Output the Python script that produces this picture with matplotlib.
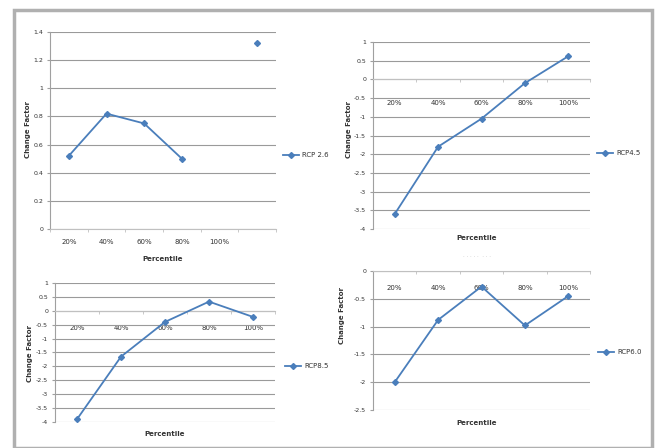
import numpy as np
import matplotlib
matplotlib.use("Agg")
import matplotlib.pyplot as plt
from matplotlib.patches import Rectangle
from matplotlib.lines import Line2D

# data
pct_26 = ['20%', '40%', '60%', '80%', '100%', '']
cf_26 = [0.52, 0.82, 0.75, 0.50, np.nan, 1.32]

pct = ['20%', '40%', '60%', '80%', '100%']
cf_45 = [-3.6, -1.8, -1.05, -0.1, 0.62]
cf_85 = [-3.9, -1.65, -0.4, 0.33, -0.22]
cf_60 = [-2.0, -0.88, -0.28, -0.98, -0.45]

W, H = 657, 448
blue = '#4a7ebb'
grid_c = '#9a9a9a'

fig = plt.figure(figsize=(W / 100, H / 100), dpi=100)
fig.patch.set_facecolor('white')

# grey outer frame
fig.patches.append(Rectangle((14 / W, 0), 638 / W, 1 - 10 / H, transform=fig.transFigure,
                             fill=False, edgecolor='#b0b0b0', linewidth=2.5))


def px_axes(l, t, r, b):
    return fig.add_axes([l / W, 1 - b / H, (r - l) / W, (b - t) / H])


def panel(box, labels, vals, ylim, ystep, label_pad, name, leg_xy, xlab_xy, ylab_xy):
    ax = px_axes(*box)
    n = len(labels)
    x = np.arange(n)
    ax.plot(x, vals, color=blue, lw=1.3, marker='D', ms=3, mfc=blue, mec=blue, zorder=3)
    ax.set_xlim(-0.5, n - 0.5)
    ax.set_ylim(*ylim)
    ax.set_yticks(np.arange(ylim[0], ylim[1] + ystep / 2, ystep))
    ax.yaxis.set_major_formatter(plt.FuncFormatter(lambda v, p: ('%g' % round(v, 2))))
    ax.grid(axis='y', color=grid_c, lw=0.8)
    ax.set_axisbelow(True)
    for s in ['top', 'right']:
        ax.spines[s].set_visible(False)
    ax.spines['left'].set_color('#a0a0a0')
    ax.spines['bottom'].set_color('#c0c0c0')
    ax.spines['bottom'].set_position(('data', 0))
    ax.set_xticks(x)
    ax.set_xticklabels(labels)
    ax.set_xticks(np.arange(-0.5, n, 1), minor=True)
    ax.tick_params(axis='x', which='major', length=0, pad=label_pad, labelsize=5, labelcolor='#333333')
    ax.tick_params(axis='x', which='minor', length=2, color='#c0c0c0')
    ax.tick_params(axis='y', length=2, labelsize=4.5, labelcolor='#333333', color='#a0a0a0', pad=3)
    fig.text(xlab_xy[0] / W, 1 - xlab_xy[1] / H, 'Percentile', fontsize=5, fontweight='bold',
             color='#333333', ha='center', va='center')
    fig.text(ylab_xy[0] / W, 1 - ylab_xy[1] / H, 'Change Factor', fontsize=5, fontweight='bold',
             color='#333333', ha='center', va='center', rotation=90)
    # legend entry drawn by hand to sit where Excel put it
    lx, ly = leg_xy
    yy = 1 - ly / H
    fig.lines.append(Line2D([lx / W, (lx + 8) / W, (lx + 16) / W], [yy, yy, yy],
                            transform=fig.transFigure, color=blue, lw=1.3, marker='D', ms=3,
                            markevery=[1], mfc=blue, mec=blue))
    fig.text((lx + 19) / W, yy, name, fontsize=5, color='#333333', va='center')
    return ax


panel((50, 32, 276, 229), pct_26, cf_26, (0, 1.4), 0.2, 7, 'RCP 2.6',
      (283, 155), (163, 259), (28, 130))
panel((373, 42, 590, 229), pct, cf_45, (-4, 1), 0.5, 15, 'RCP4.5',
      (597, 153), (477, 238), (349, 130))
panel((55, 283, 275, 422), pct, cf_85, (-4, 1), 0.5, 10, 'RCP8.5',
      (285, 366), (165, 434), (30, 353))
panel((373, 271, 590, 410), pct, cf_60, (-2.5, 0), 0.5, 10, 'RCP6.0',
      (598, 352), (477, 423), (342, 315))

fig.text(477 / W, 1 - 256 / H, '· · · · ·  · · ·', fontsize=4, color='#bbbbbb', ha='center', va='center')

fig.savefig('out.png', dpi=100)
